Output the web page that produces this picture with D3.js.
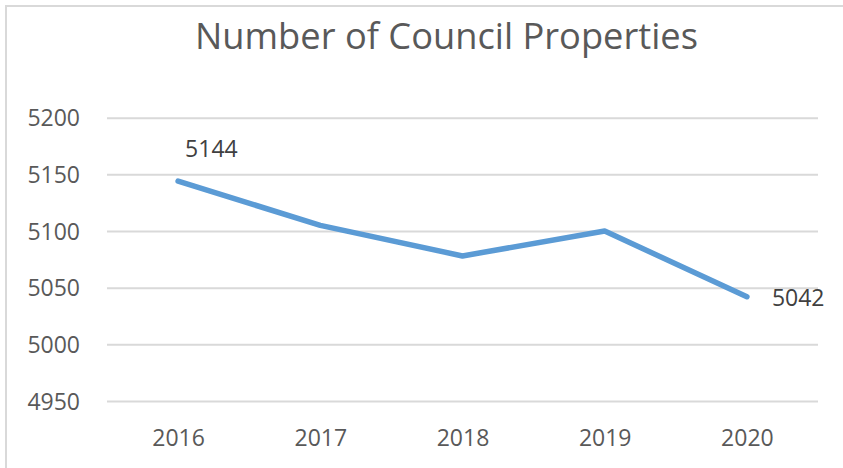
<!DOCTYPE html>
<html>
<head>
<meta charset="utf-8">
<script src="https://cdn.jsdelivr.net/npm/d3@7"></script>
<style>
  body { margin: 0; background: #fff; }
  text { font-family: "Open Sans", sans-serif; }
</style>
</head>
<body>
<div id="chart"></div>
<script>
var years = ["2016", "2017", "2018", "2019", "2020"];
var properties = [5144, 5105, 5078, 5100, 5042];
var yTicks = [4950, 5000, 5050, 5100, 5150, 5200];
var labelledYears = ["2016", "2020"];

(function() {
  var width = 843,
    height = 468;

  var svg = d3.select("#chart")
    .append("svg")
    .attr("width", width)
    .attr("height", height)

  // chart area frame (runs off the right and bottom of the shot)
  svg.append("rect")
    .attr("x", 6)
    .attr("y", 6)
    .attr("width", width)
    .attr("height", height)
    .attr("fill", "none")
    .attr("stroke", "#d9d9d9")
    .attr("stroke-width", 2)

  var x = d3.scalePoint().domain(years).range([107, 818]).padding(0.5)
  var y = d3.scaleLinear().domain([4950, 5200]).range([401, 117.7])

  var title = svg.append("text")
    .attr("x", 446.5)
    .attr("y", 49)
    .attr("text-anchor", "middle")
    .attr("fill", "#595959")
    .style("font-size", "34px")
    .text("Number of Council Properties")

  // fit title to the width in the reference
  var tw = title.node().getComputedTextLength()
  title.style("font-size", (34 * 503 / tw) + "px")

  // gridlines + y labels
  var yAxis = d3.axisLeft(y)
    .tickValues(yTicks)
    .tickSize(-(818 - 107))
    .tickPadding(27)
    .tickFormat(d3.format("d"))

  var gy = svg.append("g")
    .attr("transform", "translate(107,0)")
    .call(yAxis)
  gy.select(".domain").remove()
  gy.selectAll(".tick line")
    .attr("stroke", "#d9d9d9")
    .attr("stroke-width", 2)
  gy.selectAll(".tick text")
    .attr("fill", "#595959")
    .attr("dy", "0.36em")
    .style("font-size", "23px")
    .style("font-family", "'Open Sans', sans-serif")

  // x labels
  var xAxis = d3.axisBottom(x).tickSize(0).tickPadding(0)
  var gx = svg.append("g")
    .attr("transform", "translate(0,401)")
    .call(xAxis)
  gx.select(".domain").remove()
  gx.selectAll(".tick text")
    .attr("fill", "#595959")
    .attr("y", 44.7)
    .attr("dy", 0)
    .style("font-size", "23px")
    .style("font-family", "'Open Sans', sans-serif")

  var data = years.map(function(d, i) {
    return { year: d, value: properties[i] }
  })

  var line = d3.line()
    .x(function(d) { return x(d.year) })
    .y(function(d) { return y(d.value) })

  svg.append("path")
    .datum(data)
    .attr("d", line)
    .attr("fill", "none")
    .attr("stroke", "#5b9bd5")
    .attr("stroke-width", 5.5)
    .attr("stroke-linejoin", "round")
    .attr("stroke-linecap", "round")

  // data labels: first one above-right, last one to the right
  svg.selectAll(".data-label")
    .data(data.filter(function(d) { return labelledYears.indexOf(d.year) >= 0 }))
    .enter().append("text")
    .attr("class", "data-label")
    .attr("x", function(d, i) { return x(d.year) + (i == 0 ? 7 : 25) })
    .attr("y", function(d, i) { return y(d.value) + (i == 0 ? -24.5 : 9) })
    .attr("fill", "#404040")
    .style("font-size", "23px")
    .text(function(d) { return d.value })
})();
</script>
</body>
</html>
